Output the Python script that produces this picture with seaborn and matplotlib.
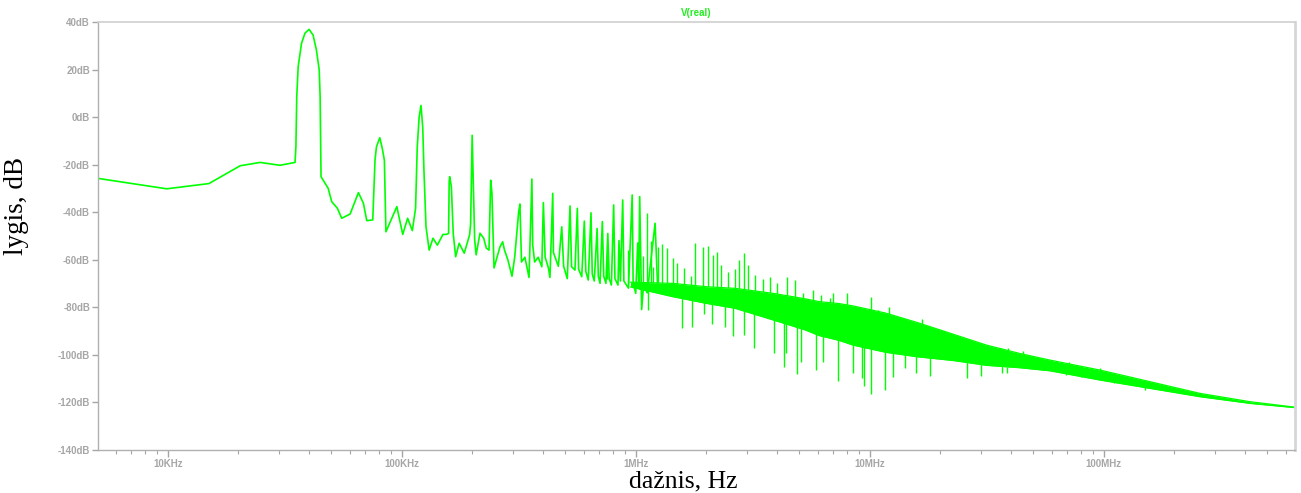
import matplotlib
matplotlib.use("Agg")
import matplotlib.pyplot as plt
import seaborn as sns
from matplotlib.ticker import LogLocator, NullFormatter

# ---------------- data ----------------
# explicit trace (low frequency part, fundamental 40 kHz and its harmonics)
curve_f = [5.02e3, 9.9e3, 15.0e3, 20.4e3, 24.8e3, 30.2e3, 35.0e3, 35.3e3, 35.6e3, 36.1e3,
           37.3e3, 38.6e3, 40.2e3, 41.8e3, 43.2e3, 44.4e3, 44.8e3, 45.2e3, 48.5e3, 50.2e3,
           53.1e3, 55.4e3, 60.2e3, 65.3e3, 68.6e3, 70.9e3, 75.2e3, 76.9e3, 78.0e3, 80.6e3,
           82.5e3, 84.3e3, 85.6e3, 95.3e3, 101e3, 106e3, 111e3, 114.6e3, 116.5e3, 118.7e3,
           120.9e3, 123e3, 124.5e3, 127e3, 131e3, 136e3, 142e3, 150e3, 155e3, 158.6e3,
           159.5e3, 160.3e3, 163e3, 166e3, 170e3, 176e3, 185e3, 195e3, 197e3, 200e3,
           202e3, 205e3, 208e3, 216e3, 224e3, 230e3, 236e3, 240e3, 243e3, 248e3,
           263e3, 270e3, 275e3, 284e3, 296e3, 304e3, 316e3, 320e3, 325e3, 336e3,
           350e3, 360e3, 363e3, 370e3, 383e3, 397e3, 403e3, 410e3, 424e3, 430e3,
           442e3, 445e3, 467e3, 483e3, 492e3, 510e3, 524e3, 532e3, 550e3, 563e3,
           570e3, 588e3, 603e3, 612e3, 627e3, 644e3, 652e3, 665e3, 684e3, 692e3,
           704e3, 720e3, 730e3, 746e3, 760e3, 770e3, 787e3, 805e3, 815e3, 840e3,
           848e3, 860e3, 880e3, 890e3, 931e3, 966e3, 975e3, 1.0e6, 1.02e6, 1.03e6,
           1.04e6, 1.06e6, 1.08e6, 1.12e6, 1.21e6, 1.24e6]
curve_db = [-25.8, -30.2, -28.0, -20.5, -19.1, -20.3, -19.1, -12.5, 8.6, 21.2,
            31.0, 35.3, 36.9, 34.5, 28.2, 19.8, 8.6, -25.1, -30.0, -35.6,
            -38.4, -42.6, -40.8, -31.8, -36.3, -43.6, -43.3, -18.0, -12.5, -8.7,
            -13.0, -18.1, -48.3, -37.7, -49.4, -42.6, -47.8, -38.4, -12.8, 0.0,
            4.9, -4.5, -23.0, -46.2, -56.0, -51.0, -53.9, -49.4, -49.4, -49.0,
            -27.2, -25.1, -29.3, -49.0, -58.8, -53.1, -57.3, -49.6, -45.0, -7.7,
            -25.0, -51.7, -58.0, -48.9, -51.0, -55.2, -56.0, -26.6, -32.0, -63.5,
            -54.6, -52.5, -56.0, -60.0, -67.0, -59.0, -40.0, -36.6, -61.0, -59.0,
            -67.5, -26.1, -54.0, -61.0, -59.0, -63.0, -36.0, -58.9, -63.7, -67.5,
            -32.1, -57.0, -62.8, -46.2, -62.8, -68.0, -37.4, -63.0, -64.4, -38.4,
            -64.0, -67.2, -43.8, -65.0, -68.6, -40.3, -66.0, -69.0, -46.9, -67.0,
            -70.0, -44.0, -67.0, -70.0, -49.0, -68.0, -70.7, -37.0, -68.0, -70.7,
            -52.0, -69.0, -34.9, -69.0, -72.0, -32.8, -70.0, -74.2, -53.0, -71.0,
            -33.5, -81.0, -71.0, -74.0, -44.7, -71.0]

# dense noise band above ~1 MHz: upper and lower edge
band_f = [0.95e6, 1.44e6, 2.0e6, 2.66e6, 3.87e6, 5.3e6, 6.1e6, 7.4e6, 8.5e6, 11.7e6,
          16e6, 22.9e6, 31.6e6, 43.8e6, 59e6, 96.6e6, 158e6, 258e6, 422e6, 657e6]
band_top = [-69.5, -70.0, -71.4, -72.1, -74.2, -76.5, -77.7, -78.5, -79.5, -82.5,
            -86.5, -91.5, -96.0, -99.5, -102.3, -106.5, -111.4, -116.3, -119.8, -122.1]
band_bot = [-71.5, -75.6, -78.4, -80.5, -85.4, -89.6, -92.0, -94.0, -96.0, -99.0,
            -100.9, -102.5, -104.5, -105.5, -106.8, -110.7, -114.2, -117.7, -120.5, -122.3]

# upward spikes above the band (frequency, tip, base)
spike_f = [756e3, 930e3, 1.07e6, 1.12e6, 1.16e6, 1.19e6, 1.25e6, 1.29e6, 1.36e6, 1.45e6,
           1.5e6, 1.61e6, 1.72e6, 1.80e6, 1.93e6, 2.04e6, 2.14e6, 2.22e6, 2.32e6, 2.47e6,
           2.65e6, 2.76e6, 2.91e6, 3.03e6, 3.23e6, 3.5e6, 3.75e6, 4.0e6, 4.42e6, 4.8e6,
           5.2e6, 5.7e6, 6.2e6, 6.76e6, 7.0e6, 7.5e6, 8.0e6, 9.1e6, 10.1e6, 10.9e6,
           12.1e6, 13.1e6, 14.3e6, 15.8e6, 16.7e6, 18.6e6, 20.4e6, 22.1e6, 24.2e6, 25e6,
           27.5e6, 30e6, 36.5e6, 39e6, 45e6, 71e6, 96.6e6]
spike_tip = [-53.7, -55.8, -58.6, -40.5, -52.0, -63.0, -54.9, -53.6, -55.0, -59.5,
             -61.4, -63.7, -67.0, -53.1, -54.6, -54.1, -58.0, -56.7, -62.4, -65.2,
             -64.0, -60.2, -57.3, -62.3, -66.5, -68.0, -67.2, -69.9, -67.2, -68.6,
             -74.1, -72.7, -74.8, -76.3, -74.2, -79.1, -74.2, -80.5, -75.6, -81.2,
             -79.8, -84.7, -86.1, -87.5, -85.0, -88.9, -89.7, -91.7, -92.4, -93.3,
             -95.2, -95.0, -97.0, -97.0, -98.6, -103.0, -105.8]
spike_base = [-68.0, -70.0, -70.0, -70.0, -70.0, -70.0, -70.0, -70.0, -70.0, -70.5,
              -70.5, -70.8, -71.0, -71.0, -71.2, -71.5, -71.5, -71.6, -71.8, -72.0,
              -72.0, -72.3, -72.6, -72.8, -73.2, -73.6, -74.0, -74.5, -75.5, -76.5,
              -77.3, -78.0, -78.3, -79.0, -79.0, -80.0, -80.0, -81.0, -82.0, -82.5,
              -84.0, -86.0, -87.5, -88.0, -88.5, -91.0, -92.0, -93.5, -94.5, -95.0,
              -96.5, -97.0, -98.5, -99.0, -100.0, -104.3, -106.5]

# downward dips below the band (frequency, tip, base)
dip_f = [1.13e6, 1.58e6, 1.74e6, 1.95e6, 2.12e6, 2.4e6, 2.6e6, 2.9e6, 3.2e6, 3.9e6,
         4.3e6, 4.4e6, 4.9e6, 5.1e6, 5.9e6, 6.3e6, 7.3e6, 8.5e6, 9.3e6, 9.5e6,
         10.1e6, 11.6e6, 12.6e6, 14.1e6, 15.8e6, 18.1e6, 26e6, 30e6, 36.7e6, 38.6e6,
         69e6, 80e6, 111e6, 150e6]
dip_tip = [-81.2, -88.9, -88.4, -83.0, -87.1, -88.2, -92.3, -91.7, -97.2, -99.4,
           -105.0, -99.4, -108.0, -103.0, -106.5, -103.0, -111.0, -107.6, -110.0, -113.0,
           -116.5, -115.0, -109.3, -105.8, -107.6, -109.0, -110.0, -109.0, -107.6, -107.9,
           -108.5, -109.6, -111.8, -115.0]
dip_base = [-72.0, -75.0, -76.0, -77.0, -78.0, -79.0, -79.5, -80.5, -81.5, -84.0,
            -85.5, -86.0, -87.5, -88.0, -90.5, -91.5, -93.0, -95.0, -96.0, -96.5,
            -97.0, -98.0, -98.5, -99.3, -100.0, -101.0, -103.0, -104.0, -104.8, -105.0,
            -107.5, -108.3, -111.0, -113.8]

xtick_vals = [1e4, 1e5, 1e6, 1e7, 1e8]
xtick_labels = ["10KHz", "100KHz", "1MHz", "10MHz", "100MHz"]
ytick_vals = [40, 20, 0, -20, -40, -60, -80, -100, -120, -140]
ytick_labels = ["40dB", "20dB", "0dB", "-20dB", "-40dB", "-60dB", "-80dB",
                "-100dB", "-120dB", "-140dB"]

# ---------------- drawing ----------------
GREEN = "#00ff00"
TICK_GRAY = "#a6a6a6"

sns.set_style("white")
plt.rcParams["font.family"] = ["Liberation Sans", "DejaVu Sans"]

W, H = 1301, 493
fig = plt.figure(figsize=(W / 100, H / 100), dpi=100)
L, R, T, B = 97.7, 1295.0, 22.0, 449.7
ax = fig.add_axes([L / W, 1 - B / H, (R - L) / W, (B - T) / H])
ax.set_xscale("log")

ax.fill_between(band_f, band_bot, band_top, color=GREEN, linewidth=0)
ax.plot(band_f, band_top, color=GREEN, lw=0.9)
ax.plot(band_f, band_bot, color=GREEN, lw=0.9)
ax.vlines(spike_f, spike_base, spike_tip, color=GREEN, lw=1.0)
ax.vlines(dip_f, dip_tip, dip_base, color=GREEN, lw=1.0)
sns.lineplot(x=curve_f, y=curve_db, ax=ax, color=GREEN, lw=1.2,
             sort=False, estimator=None)

ax.set_xlim(5.02e3, 6.57e8)
ax.set_ylim(-140, 40)

ax.set_xticks(xtick_vals)
ax.set_xticklabels(xtick_labels)
ax.xaxis.set_minor_locator(LogLocator(base=10, subs=range(2, 10), numticks=50))
ax.xaxis.set_minor_formatter(NullFormatter())
ax.set_yticks(ytick_vals)
ax.set_yticklabels(ytick_labels)

ax.tick_params(axis="x", which="major", direction="out", length=5, width=1,
               color=TICK_GRAY, labelcolor=TICK_GRAY, labelsize=7, pad=1.5, bottom=True)
ax.tick_params(axis="x", which="minor", direction="out", length=3, width=0.8,
               color=TICK_GRAY, bottom=True)
ax.tick_params(axis="y", which="major", direction="out", length=4, width=1,
               color=TICK_GRAY, labelcolor=TICK_GRAY, labelsize=7, pad=1.5, left=True)
for lab in ax.get_xticklabels() + ax.get_yticklabels():
    lab.set_fontweight("bold")

for side in ["left", "bottom"]:
    ax.spines[side].set_color("#b0b0b0")
    ax.spines[side].set_linewidth(1.0)
ax.spines["top"].set_color("#d0d0d0")
ax.spines["top"].set_linewidth(1.2)
ax.spines["right"].set_color("#d6d6d6")
ax.spines["right"].set_linewidth(2.0)
ax.grid(False)

ax.set_xlabel("")
ax.set_ylabel("")
ax.set_title("V(real)", color="#22ee22", fontsize=7, fontweight="bold", pad=4)

fig.text(683 / W, 1 - 487.5 / H, "dažnis, Hz", family=["Liberation Serif", "DejaVu Serif"],
         fontsize=18.5, ha="center", va="baseline", color="black")
fig.text(17 / W, 1 - 206 / H, "lygis, dB", family=["Liberation Serif", "DejaVu Serif"],
         fontsize=19.5, ha="center", va="center", rotation=90, color="black")

fig.savefig("out.png", dpi=100)
